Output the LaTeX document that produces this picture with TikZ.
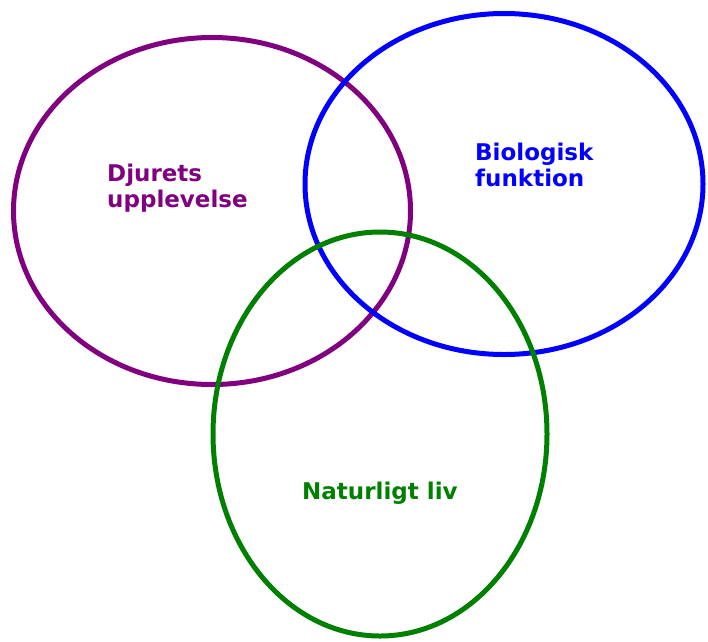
\documentclass[tikz,border=0pt]{standalone}
\usepackage{fontspec}
\setmainfont{DejaVu Sans}
\usetikzlibrary{shapes.geometric}
\definecolor{lila}{HTML}{800080}
\definecolor{bla}{HTML}{0000FF}
\definecolor{gron}{HTML}{008000}

\begin{document}
\begin{tikzpicture}[
    x=1pt,y=-1pt,
    ring/.style={ellipse, draw, line width=5pt, inner sep=0pt},
    label/.style={anchor=base west, align=left, inner sep=0pt, font=\fontsize{23}{26}\selectfont\bfseries}
]
    \useasboundingbox (0,0) rectangle (708,641);

    \node[ring, lila, minimum width=397pt, minimum height=347pt] (upplevelse) at (212,211) {};
    \node[ring, bla, minimum width=398pt, minimum height=341pt] (funktion) at (504,184) {};
    \node[ring, gron, minimum width=334pt, minimum height=404pt] (natur) at (380,434) {};

    \node[label, lila] (djur) at (107,207) {Djurets\\upplevelse};
    \node[label, bla] (bio) at (475,186) {Biologisk\\funktion};
    \node[label, gron] (liv) at (302,499) {Naturligt liv};
\end{tikzpicture}
\end{document}
